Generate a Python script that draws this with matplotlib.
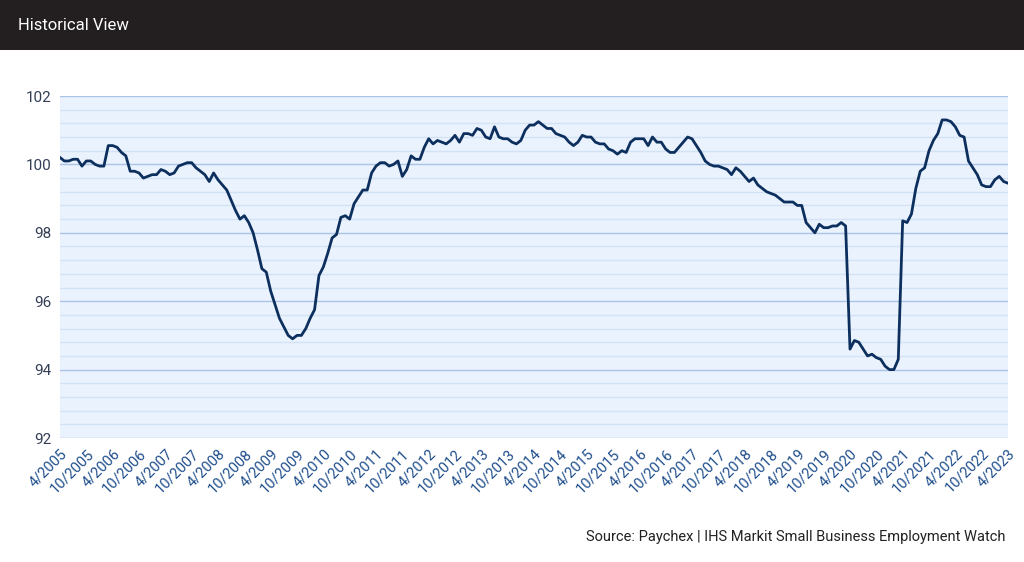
import matplotlib
matplotlib.use("Agg")
import matplotlib.pyplot as plt
import numpy as np

values = [
 100.2,100.1,100.1,100.15,100.15,99.95,100.1,100.1,100.0,
 99.95,99.95,100.55,100.55,100.5,100.35,100.25,99.8,99.8,99.75,99.6,99.65,
 99.7,99.7,99.85,99.8,99.7,99.75,99.95,100.0,100.05,100.05,99.9,99.8,
 99.7,99.5,99.75,99.55,99.4,99.25,98.95,98.65,98.4,98.5,98.3,98.0,
 97.5,96.95,96.85,96.3,95.9,95.5,95.25,95.0,94.9,95.0,95.0,95.2,
 95.5,95.75,96.75,97.0,97.4,97.85,97.95,98.45,98.5,98.4,98.85,99.05,
 99.25,99.25,99.75,99.95,100.05,100.05,99.95,100.0,100.1,99.65,99.85,100.25,
 100.15,100.15,100.5,100.75,100.6,100.7,100.65,100.6,100.7,100.85,100.65,100.9,
 100.9,100.85,101.05,101.0,100.8,100.75,101.1,100.8,100.75,100.75,100.65,100.6,
 100.7,101.0,101.15,101.15,101.25,101.15,101.05,101.05,100.9,100.85,100.8,100.65,
 100.55,100.65,100.85,100.8,100.8,100.65,100.6,100.6,100.45,100.4,100.3,100.4,
 100.35,100.65,100.75,100.75,100.75,100.55,100.8,100.65,100.65,100.45,100.35,100.35,
 100.5,100.65,100.8,100.75,100.55,100.35,100.1,100.0,99.95,99.95,99.9,99.85,
 99.7,99.9,99.8,99.65,99.5,99.6,99.4,99.3,99.2,99.15,99.1,99.0,
 98.9,98.9,98.9,98.8,98.8,98.3,98.15,98.0,98.25,98.15,98.15,98.2,
 98.2,98.3,98.2,94.6,94.85,94.8,94.6,94.4,94.45,94.35,94.3,94.1,
 94.0,94.0,94.3,98.35,98.3,98.55,99.3,99.8,99.9,100.4,100.7,100.9,
 101.3,101.3,101.25,101.1,100.85,100.8,100.1,99.9,99.7,99.4,99.35,99.35,
 99.55,99.65,99.5,99.45,
]
start_year, start_month = 2005, 4
labels = []
for i in range(len(values)):
    m = (start_month - 1 + i) % 12 + 1
    y = start_year + (start_month - 1 + i) // 12
    labels.append(f"{m}/{y}")
tick_idx = list(range(0, len(values), 6))

fig = plt.figure(figsize=(10.24, 5.62), dpi=100)
fig.patch.set_facecolor("white")
# header
hdr = fig.add_axes([0, 1 - 50/562, 1, 50/562])
hdr.set_facecolor("#231f20"); hdr.set_xticks([]); hdr.set_yticks([])
for s in hdr.spines.values(): s.set_visible(False)
fig.text(18/1024, 1 - 25/562, "Historical View", color="white", fontsize=12,
         va="center", ha="left", family="Roboto")

ax = fig.add_axes([60/1024, 1 - 438/562, 948/1024, 342/562])
ax.set_facecolor("#eaf3fd")
x = np.arange(len(values))
ax.set_xlim(0, len(values) - 1)
ax.set_ylim(92, 102)
for v in np.arange(92, 102.01, 0.4):
    if abs(v - round(v)) < 1e-6 and round(v) % 2 == 0:
        continue
    ax.axhline(v, color="#d3e3f5", lw=1, zorder=1)
for v in range(92, 103, 2):
    ax.axhline(v, color="#a9c4e4", lw=1, zorder=1)
ax.plot(x, values, color="#0d2f5e", lw=2, zorder=3)
ax.set_yticks(range(92, 103, 2))
ax.set_xticks(tick_idx)
ax.set_xticklabels([labels[i] for i in tick_idx], rotation=45, ha="right",
                   rotation_mode="anchor", fontsize=10.5, color="#1f4e8c", family="Roboto")
for t in ax.get_yticklabels():
    t.set_family("Roboto"); t.set_fontsize(11); t.set_color("#333f55")
ax.tick_params(length=0, pad=6)
for s in ax.spines.values(): s.set_visible(False)

fig.text(1005/1024, 1 - 537/562, "Source: Paychex | IHS Markit Small Business Employment Watch",
         ha="right", va="center", fontsize=10.5, color="#222222", family="Roboto")
fig.savefig("out.png", dpi=100)
